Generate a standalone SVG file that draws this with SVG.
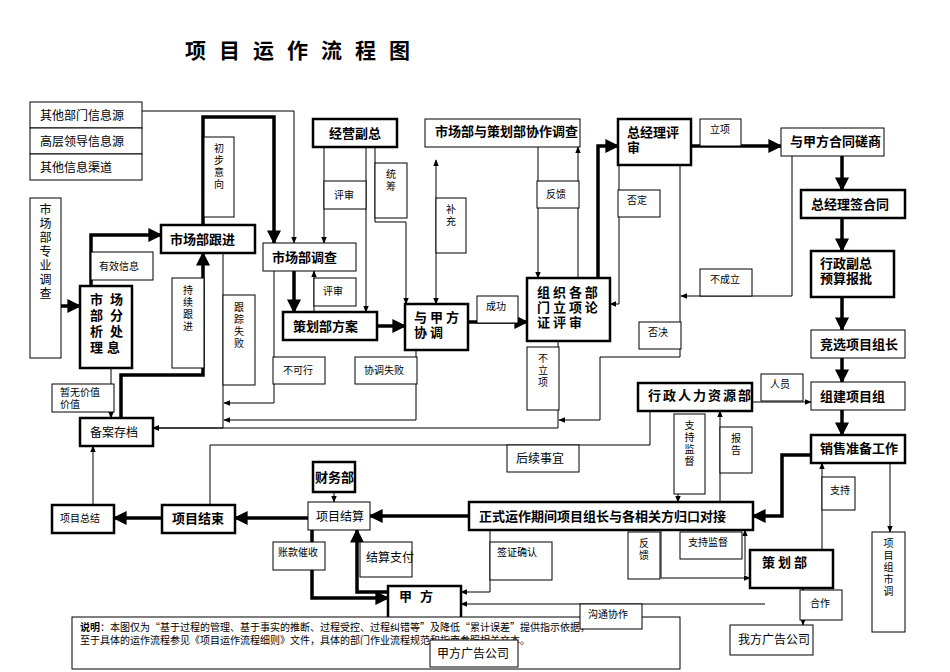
<svg xmlns="http://www.w3.org/2000/svg" width="950" height="672" viewBox="0 0 950 672">
<defs>
<marker id="a" viewBox="0 0 10 10" refX="9" refY="5" markerWidth="7" markerHeight="7" orient="auto-start-reverse"><path d="M0,1 L10,5 L0,9 z" fill="#000"/></marker>
<marker id="b" viewBox="0 0 10 10" refX="9" refY="5" markerWidth="4" markerHeight="4" orient="auto-start-reverse"><path d="M0,0 L10,5 L0,10 z" fill="#000"/></marker>
<style>
text{font-family:"Noto Sans CJK SC","Liberation Serif",serif;fill:#000}
.n rect{fill:#fff;stroke:#000;stroke-width:1}
.k rect{stroke-width:2.5}
.t{font-size:12px}
.b{font-size:13px;font-weight:bold}
.s{font-size:10px}
.c path{fill:none;stroke:#000;stroke-width:1;marker-end:url(#a)}
.c path.th{stroke-width:3.5;marker-end:url(#b)}
.c path.nm{marker-end:none}
</style>
</defs>
<rect width="950" height="672" fill="#fff"/>
<text x="185" y="58" font-size="21" font-weight="bold" letter-spacing="13">项目运作流程图</text>

<g class="c">
<path class="th" d="M61,306 H80"/>
<path class="th" d="M91,286 V235 H161"/>
<path class="th" d="M203,225 V117 H274 V243"/>
<path class="th" d="M294,271 V312"/>
<path class="th" d="M377,326 H405"/>
<path class="th" d="M468,322 H527"/>
<path class="th" d="M598,278 V146 H618"/>
<path class="th" d="M691,146 H781"/>
<path class="th" d="M842,156 V190"/>
<path class="th" d="M842,218 V251"/>
<path class="th" d="M842,297 V330"/>
<path class="th" d="M842,358 V382"/>
<path class="th" d="M842,410 V435"/>
<path class="th" d="M811,455 H782 V516 H753"/>
<path class="th" d="M469,516 H370"/>
<path class="th" d="M308,518 H235"/>
<path class="th" d="M162,518 H114"/>
<path class="th" d="M121,418 V375 H203 V253"/>
<path class="th" d="M312,530 V598 H388"/>
<path class="th" d="M388,592 H357 V530"/>
<path d="M142,111 H294 V243"/>
<path d="M324,147 V243"/>
<path d="M366,147 V312"/>
<path d="M375,147 V222 H406 V304"/>
<path d="M314,312 V271"/>
<path d="M436,160 V304" marker-start="url(#a)"/>
<path d="M538,147 V278"/>
<path d="M578,278 V147"/>
<path d="M619,165 V304 H610"/>
<path d="M680,165 V357 H600 V420 H559"/>
<path d="M792,156 V296 H681"/>
<path d="M558,341 V428 H153"/>
<path d="M274,271 V403 H224"/>
<path d="M416,350 V420 H224"/>
<path d="M223,253 V428 H153"/>
<path d="M111,368 V418"/>
<path class="nm" d="M650,411 V445 H210 V505"/>
<path d="M752,402 H811"/>
<path d="M678,414 V502"/>
<path d="M720,502 V411"/>
<path d="M334,492 V502"/>
<path d="M93,528 V446"/>
<path d="M822,550 V463"/>
<path d="M890,463 V532"/>
<path d="M490,530 V592 H461"/>
<path d="M765,604 H461"/>
<path d="M661,530 V578 H750"/>
<path d="M745,575 V530"/>
<path d="M803,625 V588" marker-start="url(#a)"/>
<path d="M447,640 V621" marker-start="url(#a)"/>
</g>

<g class="n" id="src1"><rect x="30" y="102" width="112" height="26"/><text class="t" x="40" y="120">其他部门信息源</text></g>
<g class="n" id="src2"><rect x="30" y="128" width="112" height="26"/><text class="t" x="40" y="146">高层领导信息源</text></g>
<g class="n" id="src3"><rect x="30" y="154" width="112" height="26"/><text class="t" x="40" y="172">其他信息渠道</text></g>
<g class="n" id="zydc"><rect x="30" y="198" width="31" height="160"/><text class="t" x="45.5" y="214" text-anchor="middle"><tspan x="45.5">市</tspan><tspan x="45.5" dy="14">场</tspan><tspan x="45.5" dy="14">部</tspan><tspan x="45.5" dy="14">专</tspan><tspan x="45.5" dy="14">业</tspan><tspan x="45.5" dy="14">调</tspan><tspan x="45.5" dy="14">查</tspan></text></g>
<g class="n k" id="fx"><rect x="80" y="286" width="52" height="82"/><text class="b" x="90" y="304" font-size="14"><tspan x="90">市</tspan><tspan x="110">场</tspan><tspan x="90" dy="16">部</tspan><tspan x="110">分</tspan><tspan x="90" dy="16">析</tspan><tspan x="110">处</tspan><tspan x="90" dy="16">理</tspan><tspan x="107">息</tspan></text></g>
<g class="n" id="yxxx"><rect x="91" y="252" width="62" height="28"/><text class="s" x="99" y="270">有效信息</text></g>
<g class="n k" id="gj"><rect x="161" y="225" width="94" height="28"/><text class="b" x="170" y="244">市场部跟进</text></g>
<g class="n" id="cbyx"><rect x="204" y="137" width="30" height="80"/><text class="s" x="219" y="152" text-anchor="middle"><tspan x="219">初</tspan><tspan x="219" dy="12">步</tspan><tspan x="219" dy="12">意</tspan><tspan x="219" dy="12">向</tspan></text></g>
<g class="n" id="cxgj"><rect x="172" y="278" width="32" height="90"/><text class="s" x="188" y="294" text-anchor="middle"><tspan x="188">持</tspan><tspan x="188" dy="12">续</tspan><tspan x="188" dy="12">跟</tspan><tspan x="188" dy="12">进</tspan></text></g>
<g class="n" id="gzsb"><rect x="223" y="295" width="32" height="90"/><text class="s" x="239" y="311" text-anchor="middle"><tspan x="239">跟</tspan><tspan x="239" dy="12">踪</tspan><tspan x="239" dy="12">失</tspan><tspan x="239" dy="12">败</tspan></text></g>
<g class="n" id="dc"><rect x="263" y="243" width="93" height="28"/><text class="b" x="272" y="262">市场部调查</text></g>
<g class="n" id="ps1"><rect x="324" y="181" width="42" height="28"/><text class="s" x="334" y="199">评审</text></g>
<g class="n" id="tc"><rect x="375" y="163" width="32" height="55"/><text class="s" x="391" y="178" text-anchor="middle"><tspan x="391">统</tspan><tspan x="391" dy="12">筹</tspan></text></g>
<g class="n k" id="jyfz"><rect x="313" y="119" width="84" height="28"/><text class="b" x="329" y="138">经营副总</text></g>
<g class="n" id="ps2"><rect x="314" y="278" width="42" height="28"/><text class="s" x="323" y="295">评审</text></g>
<g class="n k" id="chfa"><rect x="283" y="312" width="94" height="28"/><text class="b" x="293" y="331">策划部方案</text></g>
<g class="n" id="bkx"><rect x="273" y="357" width="52" height="27"/><text class="s" x="283" y="374">不可行</text></g>
<g class="n" id="xtsb"><rect x="355" y="357" width="62" height="27"/><text class="s" x="364" y="374">协调失败</text></g>
<g class="n k" id="yjfxt"><rect x="405" y="304" width="63" height="46"/><text class="b" x="414" y="322"><tspan x="414">与 甲 方</tspan><tspan x="414" dy="15">协  调</tspan></text></g>
<g class="n" id="bc"><rect x="436" y="198" width="30" height="55"/><text class="s" x="451" y="213" text-anchor="middle"><tspan x="451">补</tspan><tspan x="451" dy="12">充</tspan></text></g>
<g class="n" id="xzdc"><rect x="425" y="119" width="155" height="28"/><text class="b" x="435" y="136" font-size="12">市场部与策划部协作调查</text></g>
<g class="n" id="fk1"><rect x="537" y="181" width="42" height="27"/><text class="s" x="546" y="198">反馈</text></g>
<g class="n" id="cg"><rect x="477" y="296" width="41" height="27"/><text class="s" x="486" y="310">成功</text></g>
<g class="n k" id="zz"><rect x="527" y="278" width="83" height="63"/><text class="b" x="537" y="297" font-size="14"><tspan x="537">组 织 各 部</tspan><tspan x="537" dy="15">门 立 项 论</tspan><tspan x="537" dy="15">证 评 审</tspan></text></g>
<g class="n" id="blx"><rect x="527" y="347" width="32" height="63"/><text class="s" x="543" y="362" text-anchor="middle"><tspan x="543">不</tspan><tspan x="543" dy="12">立</tspan><tspan x="543" dy="12">项</tspan></text></g>
<g class="n k" id="zjlps"><rect x="618" y="119" width="73" height="46"/><text class="b" x="627" y="137" font-size="14"><tspan x="627">总经理评</tspan><tspan x="627" dy="15">审</tspan></text></g>
<g class="n" id="lx"><rect x="700" y="119" width="41" height="27"/><text class="s" x="710" y="133">立项</text></g>
<g class="n" id="fd"><rect x="618" y="190" width="42" height="27"/><text class="s" x="627" y="204">否定</text></g>
<g class="n" id="fj"><rect x="639" y="322" width="42" height="27"/><text class="s" x="648" y="336">否决</text></g>
<g class="n" id="bcl"><rect x="700" y="269" width="52" height="27"/><text class="s" x="710" y="283">不成立</text></g>
<g class="n" id="htcs"><rect x="781" y="128" width="103" height="28"/><text class="b" x="790" y="146" font-size="12">与甲方合同磋商</text></g>
<g class="n k" id="qht"><rect x="801" y="190" width="104" height="28"/><text class="b" x="811" y="209">总经理签合同</text></g>
<g class="n k" id="ysbp"><rect x="811" y="251" width="83" height="46"/><text class="b" x="820" y="268" font-size="14"><tspan x="820">行政副总</tspan><tspan x="820" dy="15">预算报批</tspan></text></g>
<g class="n" id="jx"><rect x="811" y="330" width="94" height="28"/><text class="b" x="820" y="349" font-size="12">竞选项目组长</text></g>
<g class="n" id="zj"><rect x="811" y="382" width="94" height="28"/><text class="b" x="820" y="401">组建项目组</text></g>
<g class="n" id="ry"><rect x="761" y="374" width="42" height="27"/><text class="s" x="770" y="388">人员</text></g>
<g class="n k" id="rl"><rect x="638" y="383" width="114" height="28"/><text class="b" x="648" y="400" letter-spacing="2">行政人力资源部</text></g>
<g class="n" id="zcjd1"><rect x="674" y="414" width="31" height="80"/><text class="s" x="689.5" y="429" text-anchor="middle"><tspan x="689.5">支</tspan><tspan x="689.5" dy="12">持</tspan><tspan x="689.5" dy="12">监</tspan><tspan x="689.5" dy="12">督</tspan></text></g>
<g class="n" id="bg"><rect x="720" y="427" width="32" height="46"/><text class="s" x="736" y="442" text-anchor="middle"><tspan x="736">报</tspan><tspan x="736" dy="12">告</tspan></text></g>
<g class="n" id="hxsy"><rect x="507" y="445" width="72" height="27"/><text class="t" x="516" y="463">后续事宜</text></g>
<g class="n k" id="xs"><rect x="811" y="435" width="94" height="28"/><text class="b" x="820" y="453" font-size="12">销售准备工作</text></g>
<g class="n k" id="ba"><rect x="80" y="418" width="73" height="28"/><text class="t" x="90" y="437">备案存档</text></g>
<g class="n" id="zwjz"><rect x="52" y="384" width="62" height="28"/><text class="s" x="60" y="396"><tspan x="60">暂无价值</tspan><tspan x="60" dy="12">价值</tspan></text></g>
<g class="n k" id="cwb"><rect x="313" y="462" width="42" height="30"/><text class="b" x="315" y="482">财务部</text></g>
<g class="n" id="xmjs"><rect x="308" y="502" width="62" height="28"/><text class="t" x="316" y="521">项目结算</text></g>
<g class="n k" id="xmjsu"><rect x="162" y="505" width="73" height="28"/><text class="b" x="172" y="523" font-size="12">项目结束</text></g>
<g class="n k" id="xmzj"><rect x="52" y="505" width="62" height="28"/><text class="s" x="60" y="522">项目总结</text></g>
<g class="n k" id="zsyz"><rect x="469" y="502" width="284" height="28"/><text class="b" x="479" y="521">正式运作期间项目组长与各相关方归口对接</text></g>
<g class="n" id="zc"><rect x="822" y="477" width="33" height="33"/><text class="s" x="830" y="494">支持</text></g>
<g class="n" id="xmzsd"><rect x="872" y="532" width="33" height="100"/><text class="s" x="888.5" y="547" text-anchor="middle"><tspan x="888.5">项</tspan><tspan x="888.5" dy="12">目</tspan><tspan x="888.5" dy="12">组</tspan><tspan x="888.5" dy="12">市</tspan><tspan x="888.5" dy="12">调</tspan></text></g>
<g class="n" id="zkcs"><rect x="273" y="542" width="52" height="28"/><text class="s" x="278" y="556">账款催收</text></g>
<g class="n" id="jszf"><rect x="360" y="542" width="52" height="35"/><text class="t" x="366" y="562">结算支付</text></g>
<g class="n" id="qzqr"><rect x="490" y="542" width="62" height="38"/><text class="s" x="497" y="556">签证确认</text></g>
<g class="n" id="fk2"><rect x="628" y="532" width="32" height="47"/><text class="s" x="644" y="547" text-anchor="middle"><tspan x="644">反</tspan><tspan x="644" dy="12">馈</tspan></text></g>
<g class="n" id="zcjd2"><rect x="680" y="532" width="62" height="27"/><text class="s" x="688" y="546">支持监督</text></g>
<g class="n k" id="chb"><rect x="750" y="550" width="83" height="38"/><text class="b" x="762" y="567" font-size="14" letter-spacing="3">策划部</text></g>
<g class="n" id="hz"><rect x="800" y="590" width="42" height="30"/><text class="s" x="810" y="607">合作</text></g>
<g class="n" id="wfgg"><rect x="730" y="625" width="83" height="30"/><text class="t" x="738" y="644">我方广告公司</text></g>
<g class="n k" id="jf"><rect x="388" y="586" width="73" height="35"/><text class="b" x="399" y="601" letter-spacing="8">甲方</text></g>
<g class="n" id="smb"><rect x="72" y="617" width="608" height="52"/><text class="s" x="80" y="631"><tspan font-weight="bold">说明</tspan>：本图仅为“基于过程的管理、基于事实的推断、过程受控、过程纠错等”及降低“累计误差”提供指示依据，</text><text class="s" x="80" y="644">至于具体的运作流程参见《项目运作流程细则》文件，具体的部门作业流程规范和指南参照相关文本。</text></g>
<g class="n" id="gtxz"><rect x="580" y="604" width="62" height="25"/><text class="s" x="588" y="618">沟通协作</text></g>
<g class="n" id="jfgg"><rect x="430" y="640" width="88" height="27"/><text class="t" x="437" y="658">甲方广告公司</text></g>
</svg>
